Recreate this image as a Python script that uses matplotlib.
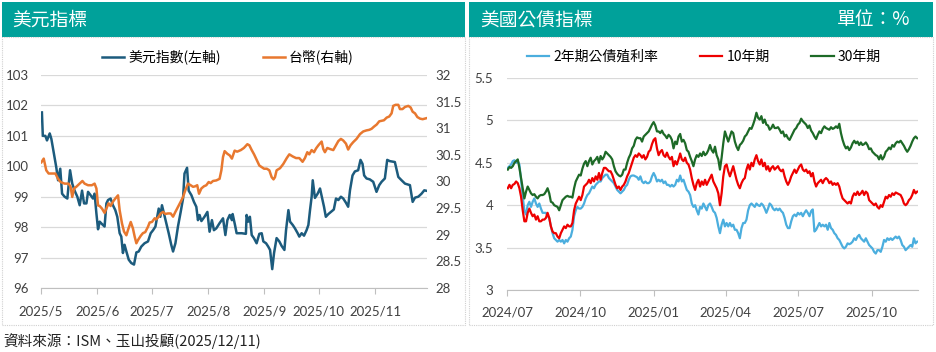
import matplotlib
matplotlib.use('Agg')
import matplotlib.pyplot as plt
import matplotlib.dates as mdates
from matplotlib.patches import Rectangle
import pandas as pd

CJK = ['Noto Sans CJK TC', 'DejaVu Sans']
NUM = ['Lato', 'Noto Sans CJK TC', 'DejaVu Sans']

# ---------------- Left panel data: days since 2025-05-01 ----------------
dxy_day = [0.5, 1, 2.4, 3.3, 4.8, 5.7, 7, 8.4, 9.4, 10.6, 11.6, 13, 14.5, 16, 17.2, 18.5, 20, 21.3, 22.6, 23.7,
           25, 25.9, 27.3, 28.6, 29.5, 30.5, 31.4, 32.3, 33.6, 35, 36, 36.9, 38.3, 39.6, 40.9, 42, 43.3, 44.2, 45.1,
           46, 47, 48.3, 49.7, 51.2, 52.5, 53.8, 55.2, 57, 58.9, 60.4, 61.7, 63, 64, 64.8, 65.7, 66.6, 67.7, 69,
           70.3, 71.7, 72.7, 74, 75.4, 76.9, 78.2, 79, 80.4, 81.3, 82.8, 84.2, 85.5, 86.4, 87.3, 88.3, 90, 91.6,
           92.8, 94.1, 95.2, 96.5, 98.3, 100.2, 101.5, 102.6, 103.9, 105.1, 105.5, 106.8, 107.7, 110.5, 112.8,
           113.2, 114.1, 115, 116, 117.2, 118.7, 120.2, 121.5, 122.4, 123.9, 125.1, 126.1, 127.3, 128.3, 129.7,
           131.2, 132.5, 134, 134.9, 136.2, 137.1, 138.6, 139.8, 141.3, 142.2, 143.5, 144.8, 146.2, 147.2, 148.1,
           149, 149.6, 150.8, 152.3, 153.6, 154.8, 155.8, 156.8, 158.2, 159.6, 161.2, 162.4, 163.7, 165.1, 166.4,
           167.9, 169.1, 170.1, 171.5, 172.8, 174.6, 175.9, 177, 177.9, 179.2, 181, 182.9, 184.7, 186.2, 187.5,
           189.3, 190.6, 192, 194.8, 196.7, 198.5, 200.4, 203.1, 204.6, 205.9, 207.7, 209.5, 211, 212.6]
dxy = [101.77, 101.0, 101.0, 100.85, 101.08, 100.9, 100.46, 99.97, 99.54, 99.92, 99.1, 99.0, 98.94, 99.87, 99.43,
       99.2, 99.0, 98.72, 99.2, 98.78, 98.78, 99.16, 99.05, 98.94, 99.1, 98.45, 97.93, 98.18, 98.1, 98.02, 98.78,
       98.89, 98.94, 98.72, 98.56, 98.34, 97.8, 97.69, 97.15, 97.42, 97.2, 96.93, 96.82, 96.77, 97.17, 97.2, 97.36,
       97.47, 97.53, 97.8, 97.9, 98.02, 98.34, 98.61, 98.34, 98.72, 98.45, 98.13, 97.8, 97.42, 97.2, 97.47, 98.02,
       98.5, 98.94, 99.76, 99.95, 99.2, 99.05, 98.83, 98.67, 98.23, 98.4, 98.2, 98.34, 98.5, 97.85, 98.23, 97.9,
       97.96, 98.13, 98.29, 97.74, 98.23, 98.4, 98.23, 98.43, 98.07, 97.8, 97.8, 97.78, 98.4, 98.18, 98.34, 97.74,
       97.64, 97.47, 97.78, 97.8, 97.53, 97.47, 97.36, 97.25, 96.62, 97.15, 97.64, 97.53, 97.38, 97.25, 97.9,
       98.56, 98.18, 98.07, 97.96, 97.8, 97.69, 97.8, 97.72, 97.9, 98.07, 98.56, 99.0, 99.54, 98.96, 99.1, 99.27,
       98.94, 98.67, 98.34, 98.43, 98.5, 98.58, 98.94, 98.89, 99.0, 98.94, 98.8, 98.67, 99.21, 99.7, 99.83, 99.87,
       100.21, 100.08, 99.7, 99.6, 99.57, 99.49, 99.16, 99.38, 99.49, 99.6, 100.21, 100.17, 100.14, 99.65, 99.54,
       99.43, 99.38, 98.83, 98.97, 99.0, 99.1, 99.21, 99.19]

twd_day = [0.2, 1.5, 2.9, 4.2, 6.6, 7.9, 9.4, 10.8, 13, 15.2, 16.3, 17.2, 18.2, 19.4, 21.3, 22.8, 24, 25.9, 28,
           29.5, 30.5, 31.4, 32.3, 33.6, 35, 36, 37.2, 38.3, 39.6, 40.9, 42.4, 43.3, 44.6, 45.7, 47, 47.9, 49.4,
           50.6, 51.6, 52.5, 53.4, 54.9, 56.1, 57.4, 58.9, 59.8, 61.1, 62.6, 63.5, 64.8, 65.9, 67.2, 68.4, 69.9,
           71.4, 72.7, 74, 75.4, 76.9, 78.2, 79.4, 80.9, 82.4, 83.7, 84.9, 86, 87, 88.3, 89.7, 91, 92.3, 93.4, 94.7,
           96.5, 98.3, 99.3, 100.2, 101.1, 102.6, 103.9, 105.1, 106.6, 108, 110, 111.7, 113.6, 114.7, 116, 117.3,
           118.7, 120.2, 121.5, 122.8, 124.3, 125.7, 127, 128, 128.8, 129.7, 131.6, 133.4, 135.3, 136.7, 138.6,
           140.4, 142.2, 144, 145.3, 146.6, 147.7, 149, 150.3, 151.4, 152.7, 154.5, 155.4, 156.3, 157.6, 159.1,
           160.9, 162.4, 163.7, 165.1, 166.4, 167.9, 169.1, 170.4, 171.9, 173.7, 175.6, 177.4, 179.2, 180.7, 182,
           183.3, 184.8, 186.2, 187.5, 188.8, 190.3, 191.7, 193, 193.9, 195.2, 196.7, 197.6, 199, 200.4, 202.2,
           203.5, 204.6, 205.9, 207.2, 208.7, 210.1, 212.3]
twd = [30.36, 30.43, 30.21, 30.15, 30.15, 30.15, 30.05, 29.99, 29.96, 29.96, 29.9, 29.71, 29.87, 29.9, 29.96,
       30.01, 29.96, 29.93, 29.93, 29.96, 29.87, 29.55, 29.54, 29.49, 29.41, 29.49, 29.59, 29.54, 29.62, 29.68,
       29.74, 29.46, 29.21, 29.06, 28.99, 29.09, 29.24, 29.12, 28.96, 28.84, 28.9, 28.98, 29.03, 29.05, 29.15,
       29.23, 29.24, 29.31, 29.29, 29.34, 29.4, 29.43, 29.39, 29.4, 29.4, 29.34, 29.43, 29.52, 29.62, 29.71,
       29.83, 29.96, 29.93, 29.9, 29.91, 29.93, 29.77, 29.87, 29.91, 29.93, 29.99, 29.97, 30.01, 30.02, 30.05,
       30.21, 30.46, 30.57, 30.52, 30.49, 30.43, 30.58, 30.56, 30.59, 30.63, 30.7, 30.68, 30.59, 30.51, 30.41,
       30.3, 30.27, 30.24, 30.24, 30.21, 30.08, 30.04, 30.08, 30.21, 30.25, 30.33, 30.44, 30.51, 30.47, 30.44,
       30.44, 30.37, 30.44, 30.55, 30.51, 30.59, 30.55, 30.62, 30.68, 30.75, 30.61, 30.55, 30.63, 30.61, 30.59,
       30.68, 30.76, 30.8, 30.77, 30.71, 30.6, 30.68, 30.74, 30.8, 30.89, 30.94, 30.96, 30.97, 30.99, 31.03,
       31.07, 31.13, 31.14, 31.15, 31.2, 31.22, 31.28, 31.42, 31.44, 31.44, 31.36, 31.36, 31.4, 31.42, 31.39,
       31.31, 31.28, 31.21, 31.18, 31.17, 31.19]

left_ticks = ['2025-05-01', '2025-06-01', '2025-07-01', '2025-08-01', '2025-09-01', '2025-10-01', '2025-11-01']
left_ticklabels = ['2025/5', '2025/6', '2025/7', '2025/8', '2025/9', '2025/10', '2025/11']

# ---------------- Right panel data (2024-07-02 .. 2025-11-27, ~every 2 days) ----------------
y30 = [4.42, 4.45, 4.44, 4.46, 4.5, 4.52, 4.54, 4.44, 4.32, 4.2, 4.08, 4.16, 4.22, 4.18, 4.14, 4.12, 4.13, 4.1,
       4.08, 4.11, 4.12, 4.12, 4.13, 4.16, 4.2, 4.14, 4.04, 4.03, 4.0, 3.99, 3.98, 3.94, 4.0, 4.06, 4.08, 4.1,
       4.11, 4.1, 4.1, 4.09, 4.2, 4.28, 4.32, 4.36, 4.35, 4.43, 4.49, 4.52, 4.46, 4.52, 4.56, 4.48, 4.52, 4.54,
       4.57, 4.5, 4.58, 4.54, 4.57, 4.63, 4.61, 4.59, 4.57, 4.54, 4.46, 4.4, 4.37, 4.35, 4.34, 4.36, 4.42, 4.42,
       4.5, 4.56, 4.6, 4.67, 4.7, 4.77, 4.8, 4.79,
       4.79, 4.75, 4.81, 4.83, 4.85, 4.87, 4.91, 4.95, 4.98, 4.94, 4.87, 4.87, 4.85, 4.88, 4.84, 4.82, 4.79,
       4.83, 4.81, 4.77, 4.67, 4.75, 4.72, 4.81, 4.84, 4.75, 4.77, 4.73, 4.65, 4.63, 4.57, 4.52, 4.46, 4.54,
       4.59, 4.57, 4.61, 4.58, 4.63, 4.59, 4.61, 4.65, 4.71, 4.65, 4.62, 4.69, 4.59, 4.54, 4.42, 4.56, 4.73,
       4.87, 4.81, 4.75, 4.81, 4.87, 4.85, 4.75, 4.69, 4.65, 4.71, 4.73, 4.76, 4.81, 4.83, 4.87, 4.91, 4.9,
       4.95, 5.01, 5.09, 5.03, 5.01, 5.05, 4.97, 5.01, 4.95, 4.94, 4.89, 4.91, 4.95, 4.91,
       4.91, 4.92, 4.89, 4.85, 4.87, 4.81, 4.83, 4.79, 4.77, 4.81, 4.85, 4.89, 4.91, 4.95, 4.97, 5.02, 4.99,
       4.97, 4.95, 4.91, 4.94, 4.88, 4.85, 4.81, 4.78, 4.83, 4.87, 4.85, 4.9, 4.93, 4.91, 4.9, 4.89, 4.92, 4.9,
       4.91, 4.93, 4.91, 4.96, 4.85, 4.77, 4.71, 4.67, 4.69, 4.65, 4.68, 4.73, 4.76, 4.73, 4.75, 4.71, 4.74,
       4.71, 4.72, 4.74, 4.71, 4.66, 4.67, 4.63, 4.61, 4.59, 4.58, 4.54, 4.59, 4.54, 4.57, 4.63, 4.65, 4.68,
       4.66, 4.71, 4.69, 4.73, 4.75, 4.74, 4.76, 4.73, 4.7, 4.66, 4.63, 4.66, 4.7, 4.75, 4.79, 4.81, 4.79]

y10 = [4.2, 4.24, 4.2, 4.24, 4.25, 4.28, 4.26, 4.2, 4.1, 3.94, 3.81, 3.81, 3.91, 3.96, 3.91, 3.87, 3.89, 3.83,
       3.87, 3.81, 3.81, 3.83, 3.83, 3.85, 3.91, 3.85, 3.75, 3.69, 3.67, 3.67, 3.63, 3.61, 3.67, 3.71, 3.75,
       3.73, 3.77, 3.75, 3.75, 3.79, 3.94, 4.02, 4.06, 4.1, 4.06, 4.12, 4.22, 4.24, 4.26, 4.3, 4.26, 4.32, 4.28,
       4.34, 4.3, 4.38, 4.3, 4.38, 4.44, 4.44, 4.42, 4.4, 4.4, 4.36, 4.3, 4.24, 4.2, 4.22, 4.18, 4.22, 4.24,
       4.28, 4.34, 4.38, 4.44, 4.5, 4.56, 4.59, 4.57, 4.61,
       4.59, 4.56, 4.59, 4.54, 4.57, 4.63, 4.65, 4.72, 4.77, 4.79, 4.67, 4.59, 4.63, 4.65, 4.59, 4.57, 4.62,
       4.57, 4.54, 4.57, 4.46, 4.52, 4.48, 4.54, 4.61, 4.54, 4.52, 4.56, 4.5, 4.48, 4.42, 4.32, 4.24, 4.18,
       4.26, 4.3, 4.22, 4.28, 4.24, 4.3, 4.24, 4.28, 4.32, 4.36, 4.28, 4.24, 4.2, 4.14, 4.0, 4.14, 4.34, 4.46,
       4.48, 4.4, 4.34, 4.4, 4.46, 4.38, 4.3, 4.24, 4.2, 4.26, 4.3, 4.32, 4.42, 4.48, 4.42, 4.5, 4.46, 4.54,
       4.59, 4.52, 4.48, 4.54, 4.46, 4.5, 4.42, 4.46, 4.4, 4.44, 4.46, 4.42,
       4.44, 4.46, 4.42, 4.4, 4.42, 4.34, 4.28, 4.24, 4.28, 4.34, 4.38, 4.42, 4.38, 4.42, 4.46, 4.48, 4.42,
       4.4, 4.42, 4.38, 4.4, 4.34, 4.38, 4.28, 4.22, 4.26, 4.28, 4.3, 4.26, 4.3, 4.32, 4.3, 4.26, 4.28, 4.24,
       4.26, 4.24, 4.26, 4.22, 4.14, 4.08, 4.06, 4.04, 4.02, 4.04, 4.02, 4.1, 4.14, 4.12, 4.16, 4.12, 4.14,
       4.17, 4.12, 4.16, 4.14, 4.06, 4.04, 4.02, 4.0, 4.02, 3.98, 3.96, 4.0, 3.98, 4.04, 4.1, 4.08, 4.12, 4.1,
       4.14, 4.12, 4.15, 4.14, 4.13, 4.12, 4.08, 4.02, 4.0, 4.02, 4.06, 4.08, 4.12, 4.18, 4.14, 4.16]

y2 = [4.44, 4.46, 4.48, 4.52, 4.53, 4.5, 4.52, 4.48, 4.3, 4.1, 3.94, 3.89, 4.0, 4.04, 3.98, 4.04, 4.08, 4.02,
      3.98, 4.02, 3.96, 3.91, 3.91, 3.91, 3.87, 3.85, 3.75, 3.67, 3.61, 3.59, 3.57, 3.59, 3.57, 3.59, 3.55,
      3.59, 3.57, 3.61, 3.63, 3.71, 3.87, 3.94, 3.98, 3.96, 3.96, 3.98, 4.02, 4.08, 4.12, 4.14, 4.18, 4.22,
      4.2, 4.24, 4.26, 4.28, 4.28, 4.32, 4.34, 4.36, 4.36, 4.32, 4.3, 4.28, 4.26, 4.22, 4.18, 4.16, 4.14, 4.16,
      4.18, 4.22, 4.24, 4.3, 4.34, 4.35, 4.35, 4.34, 4.33, 4.3,
      4.34, 4.28, 4.26, 4.28, 4.26, 4.26, 4.28, 4.34, 4.38, 4.34, 4.28, 4.3, 4.28, 4.3, 4.26, 4.28, 4.24,
      4.24, 4.22, 4.24, 4.22, 4.24, 4.3, 4.28, 4.35, 4.28, 4.3, 4.24, 4.18, 4.16, 4.12, 4.02, 3.98, 4.0, 3.94,
      3.89, 3.98, 3.96, 4.02, 3.98, 3.94, 4.0, 4.02, 3.98, 3.93, 3.91, 3.85, 3.75, 3.67, 3.77, 3.83, 3.75,
      3.79, 3.75, 3.79, 3.75, 3.77, 3.71, 3.71, 3.67, 3.61, 3.73, 3.79, 3.79, 3.83, 3.94, 4.0, 4.02, 4.0,
      3.98, 4.02, 4.0, 3.99, 4.02, 4.0, 3.96, 3.91, 3.96, 4.02, 4.0, 3.96, 3.94,
      3.96, 3.94, 3.96, 3.93, 3.91, 3.85, 3.77, 3.73, 3.73, 3.81, 3.87, 3.89, 3.87, 3.91, 3.89, 3.91, 3.87,
      3.91, 3.94, 3.91, 3.87, 3.93, 3.95, 3.69, 3.71, 3.75, 3.79, 3.75, 3.77, 3.75, 3.77, 3.71, 3.79, 3.73,
      3.71, 3.67, 3.65, 3.61, 3.59, 3.55, 3.51, 3.49, 3.51, 3.55, 3.54, 3.55, 3.57, 3.61, 3.59, 3.63, 3.65,
      3.61, 3.59, 3.57, 3.61, 3.57, 3.53, 3.51, 3.49, 3.45, 3.43, 3.47, 3.47, 3.45, 3.51, 3.59, 3.57, 3.61,
      3.59, 3.61, 3.59, 3.61, 3.63, 3.61, 3.63, 3.59, 3.53, 3.51, 3.47, 3.49, 3.51, 3.53, 3.51, 3.61, 3.55,
      3.57]

right_ticks = ['2024-07-01', '2024-10-01', '2025-01-01', '2025-04-01', '2025-07-01', '2025-10-01']
right_ticklabels = ['2024/07', '2024/10', '2025/01', '2025/04', '2025/07', '2025/10']

# ---------------- styling ----------------
TEAL = '#00A19A'
C_DXY = '#1C5B7D'
C_TWD = '#E8782F'
C_2Y = '#4BAEDE'
C_10Y = '#EE0000'
C_30Y = '#1D6A27'
GRID = '#d9d9d9'
AXC = '#bfbfbf'
TXT = '#404040'

W, H = 936, 352
fig = plt.figure(figsize=(W / 100, H / 100), dpi=100)
fig.patch.set_facecolor('white')


def fx(px):
    return px / W


def fy(py):
    return 1 - py / H


# headers and panel frames
for x0, x1 in [(2, 465), (469, 933)]:
    fig.patches.append(Rectangle((fx(x0), fy(37)), fx(x1 - x0), (37 - 2) / H,
                                 transform=fig.transFigure, facecolor=TEAL, edgecolor='none', zorder=0))
    fig.patches.append(Rectangle((fx(x0), fy(325)), fx(x1 - x0), (325 - 37) / H,
                                 transform=fig.transFigure, facecolor='none', edgecolor='#d0d0d0',
                                 linestyle=(0, (1, 1)), linewidth=0.8, zorder=0))

fig.text(fx(12), fy(20), '美元指標', color='white', fontsize=13.5, family=CJK, va='center', ha='left')
fig.text(fx(480), fy(20), '美國公債指標', color='white', fontsize=13.5, family=CJK, va='center', ha='left')
fig.text(fx(910), fy(20), '單位：%', color='white', fontsize=13.5, family=CJK, va='center', ha='right')
fig.text(fx(3), fy(341), '資料來源：ISM、玉山投顧(2025/12/11)', color='#222222', fontsize=10.5,
         family=CJK, va='center', ha='left')

# ---------------- left chart ----------------
ax1 = fig.add_axes([fx(41), fy(288), fx(427 - 41), (288 - 75) / H])
ax2 = ax1.twinx()
base = pd.Timestamp('2025-05-01')
d_dxy = base + pd.to_timedelta(dxy_day, unit='D')
d_twd = base + pd.to_timedelta(twd_day, unit='D')
l1, = ax1.plot(d_dxy, dxy, color=C_DXY, lw=1.8, label='美元指數(左軸)', zorder=3)
l2, = ax2.plot(d_twd, twd, color=C_TWD, lw=1.8, label='台幣(右軸)', zorder=3)
ax1.set_ylim(96, 103)
ax2.set_ylim(28, 32)
ax1.set_yticks(range(96, 104))
ax2.set_yticks([28, 28.5, 29, 29.5, 30, 30.5, 31, 31.5, 32])
ax2.set_yticklabels(['28', '28.5', '29', '29.5', '30', '30.5', '31', '31.5', '32'])
ax1.set_xlim(base, base + pd.Timedelta(days=212.5))
ax1.set_xticks(pd.to_datetime(left_ticks))
ax1.set_xticklabels(left_ticklabels)
ax1.yaxis.grid(True, color=GRID, lw=0.9)
ax1.set_axisbelow(True)
for a in (ax1, ax2):
    for s in ('top', 'left', 'right', 'bottom'):
        a.spines[s].set_visible(False)
ax1.spines['bottom'].set_visible(True)
ax1.spines['bottom'].set_color(AXC)
ax1.tick_params(axis='y', length=0, pad=9, labelsize=9.5, labelcolor=TXT)
ax2.tick_params(axis='y', length=0, pad=6, labelsize=9.5, labelcolor=TXT)
ax1.tick_params(axis='x', length=4, color=AXC, pad=8.5, labelsize=9.5, labelcolor=TXT)
for lab in ax1.get_xticklabels() + ax1.get_yticklabels() + ax2.get_yticklabels():
    lab.set_family(NUM)

fig.legend(handles=[l1, l2], loc='center', bbox_to_anchor=(fx(228), fy(57)), ncol=2, frameon=False,
           prop={'family': CJK, 'size': 10}, handlelength=1.6, handletextpad=0.3, columnspacing=3.0)

# ---------------- right chart ----------------
ax3 = fig.add_axes([fx(507), fy(290), fx(918 - 507), (290 - 78) / H])
rd2 = pd.date_range('2024-07-02', '2025-11-27', periods=len(y2))
rd10 = pd.date_range('2024-07-02', '2025-11-27', periods=len(y10))
rd30 = pd.date_range('2024-07-02', '2025-11-27', periods=len(y30))
h2, = ax3.plot(rd2, y2, color=C_2Y, lw=1.6, label='2年期公債殖利率', zorder=3)
h10, = ax3.plot(rd10, y10, color=C_10Y, lw=1.6, label='10年期', zorder=4)
h30, = ax3.plot(rd30, y30, color=C_30Y, lw=1.6, label='30年期', zorder=5)
ax3.set_ylim(3, 5.5)
ax3.set_yticks([3, 3.5, 4, 4.5, 5, 5.5])
ax3.set_yticklabels(['3', '3.5', '4', '4.5', '5', '5.5'])
ax3.set_xlim(pd.Timestamp('2024-07-01'), pd.Timestamp('2025-11-28'))
ax3.set_xticks(pd.to_datetime(right_ticks))
ax3.set_xticklabels(right_ticklabels)
ax3.yaxis.grid(True, color=GRID, lw=0.9)
ax3.set_axisbelow(True)
for s in ('top', 'left', 'right'):
    ax3.spines[s].set_visible(False)
ax3.spines['bottom'].set_color(AXC)
ax3.tick_params(axis='y', length=0, pad=10, labelsize=9.5, labelcolor=TXT)
ax3.tick_params(axis='x', length=4, color=AXC, pad=8, labelsize=9.5, labelcolor=TXT)
for lab in ax3.get_xticklabels() + ax3.get_yticklabels():
    lab.set_family(NUM)

fig.legend(handles=[h2, h10, h30], loc='center', bbox_to_anchor=(fx(704), fy(57)), ncol=3, frameon=False,
           prop={'family': CJK, 'size': 10}, handlelength=1.6, handletextpad=0.3, columnspacing=3.0)

fig.savefig('out.png', dpi=100)
